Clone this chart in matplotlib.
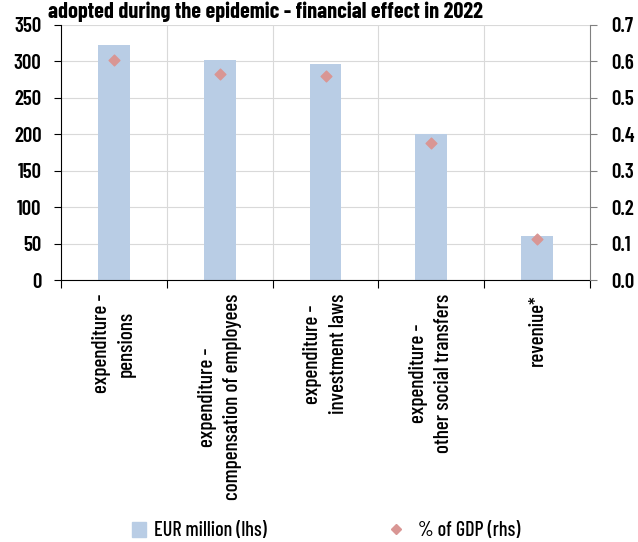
import matplotlib
matplotlib.use("Agg")
import matplotlib.pyplot as plt
from matplotlib.lines import Line2D
from matplotlib.patches import Patch

plt.rcParams['font.family'] = ['Barlow Condensed', 'DejaVu Sans']

categories = ['expenditure -\npensions',
              'expenditure -\ncompensation of employees',
              'expenditure -\ninvestment laws',
              'expenditure -\nother social transfers',
              'reveniue*']
eur_million = [323, 302, 297, 200, 60]
pct_gdp = [0.604, 0.566, 0.560, 0.376, 0.113]

bar_color = '#B9CDE5'
dot_color = '#D99694'

fig = plt.figure(figsize=(6.38, 5.42), dpi=100)
ax = fig.add_axes([61/638, 1-280/542, 529/638, 255/542])
ax2 = ax.twinx()

x = list(range(len(categories)))
ax.bar(x, eur_million, width=0.3, color=bar_color, zorder=2)
ax2.scatter(x, pct_gdp, marker='D', s=30, color=dot_color, zorder=3)

ax.set_xlim(-0.5, 4.5)
ax.set_ylim(0, 350)
ax.set_yticks(range(0, 351, 50))
ax2.set_ylim(0, 0.7)
ax2.set_yticks([i / 10 for i in range(8)])
ax2.set_yticklabels(['%.1f' % (i / 10) for i in range(8)])

# gridlines: horizontal at ticks, vertical at category borders
ax.grid(axis='y', color='#D9D9D9', lw=0.8, zorder=0)
for b in [0.5, 1.5, 2.5, 3.5]:
    ax.axvline(b, color='#D9D9D9', lw=0.8, zorder=0)

ax.set_xticks([-0.5, 0.5, 1.5, 2.5, 3.5, 4.5])
ax.set_xticklabels([])
ax.set_xticks(x, minor=True)
ax.set_xticklabels(categories, minor=True, rotation=90, fontsize=15.3, fontweight='medium',
                   ha='center', va='top', multialignment='center', linespacing=1.4)
ax.tick_params(axis='x', which='minor', length=0, pad=10)
ax.tick_params(axis='x', which='major', length=6, direction='out', color='black')
ax.tick_params(axis='y', labelsize=15, length=5, pad=9, direction='out')
ax2.tick_params(axis='y', labelsize=15, length=5, pad=10, direction='out', color='#808080')
for lab in ax.get_yticklabels() + ax2.get_yticklabels():
    lab.set_fontweight('semibold')

for s in ['top', 'right']:
    ax.spines[s].set_visible(False)
ax2.spines['top'].set_visible(False)
ax2.spines['left'].set_visible(False)
ax2.spines['bottom'].set_visible(False)
ax2.spines['right'].set_color('#808080')

fig.text(265/638, 1-12/542, 'adopted during the epidemic - financial effect in 2022',
         ha='center', va='center', fontsize=16, fontweight='bold')

h1 = Patch(color=bar_color, label='EUR million (lhs)')
h2 = Line2D([], [], marker='D', ls='none', markersize=5, color=dot_color, label='% of GDP (rhs)')
fig.legend(handles=[h1], loc='center left', bbox_to_anchor=(114/638, 1-531/542),
           frameon=False, prop={'size': 14.5, 'weight': 'medium'},
           handlelength=0.7, handleheight=0.7, handletextpad=0.4)
fig.legend(handles=[h2], loc='center left', bbox_to_anchor=(370/638, 1-531/542),
           frameon=False, prop={'size': 14.5, 'weight': 'medium'},
           handlelength=0.8, handletextpad=0.7)

fig.savefig('out.png', dpi=100)
